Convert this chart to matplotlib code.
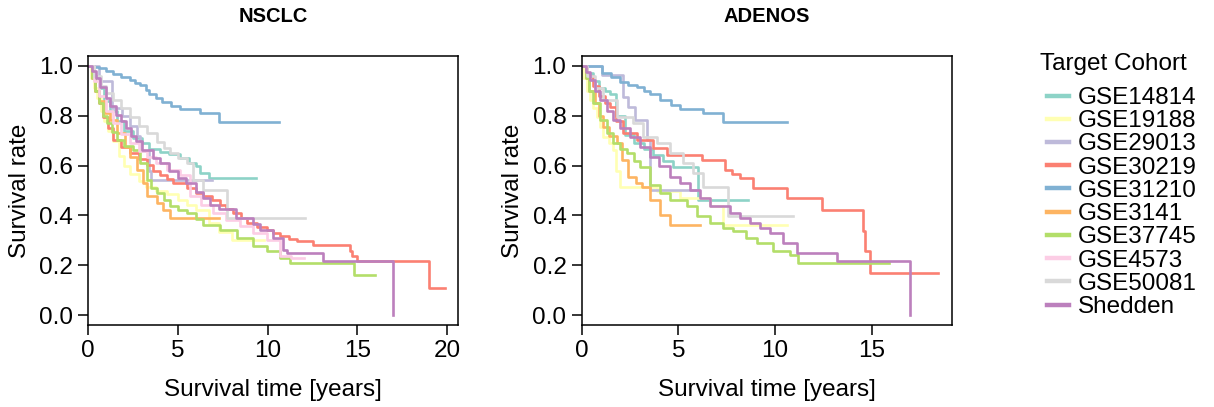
import numpy as np
import matplotlib
matplotlib.use("Agg")
import matplotlib.pyplot as plt
from matplotlib.lines import Line2D

plt.rcParams['font.family'] = ['Liberation Sans', 'DejaVu Sans']

cohorts = ['GSE14814', 'GSE19188', 'GSE29013', 'GSE30219', 'GSE31210',
           'GSE3141', 'GSE37745', 'GSE4573', 'GSE50081', 'Shedden']
colors = ['#8DD3C7', '#FFFFB3', '#BEBADA', '#FB8072', '#80B1D3',
          '#FDB462', '#B3DE69', '#FCCDE5', '#D9D9D9', '#BC80BD']

# NSCLC panel: step times (years) and survival from that time on
nsclc_gse14814_t = [0, .3, .6, .9, 1.2, 1.6, 2.0, 2.5, 3.0, 3.4, 4.0, 4.5, 5.1, 5.6, 6.0, 6.2, 6.7, 9.35]
nsclc_gse14814_s = [1, .96, .91, .86, .82, .78, .74, .71, .69, .665, .655, .645, .63, .61, .60, .57, .552, .552]
nsclc_gse19188_t = [0, .15, .3, .5, .7, .9, 1.1, 1.4, 1.7, 2.0, 2.3, 2.8, 3.2, 3.8, 4.4, 5.0, 5.5, 6.0, 6.7, 7.3, 8.0, 9.8]
nsclc_gse19188_s = [1, .95, .91, .87, .82, .78, .74, .70, .64, .60, .565, .54, .515, .50, .485, .46, .44, .42, .37, .335, .303, .303]
nsclc_gse29013_t = [0, .6, 1.3, 1.9, 2.3, 2.7, 2.9, 3.4, 3.5, 6.9]
nsclc_gse29013_s = [1, .94, .83, .80, .76, .72, .66, .58, .543, .543]
nsclc_gse30219_t = [0, .2, .4, .6, .84, 1.1, 1.39, 1.8, 2.32, 2.8, 3.25, 3.6, 4.0, 4.4, 4.74, 5.48, 6.0, 6.41,
                    6.9, 7.34, 7.7, 8.08, 8.5, 8.83, 9.4, 9.94, 10.3, 10.69, 11.2, 11.62, 12.55, 14.59, 14.68,
                    14.96, 19.0, 19.9]
nsclc_gse30219_s = [1, .95, .9, .85, .796, .75, .703, .675, .649, .625, .603, .58, .563, .545, .529, .509, .49, .476,
                    .46, .443, .425, .409, .39, .369, .355, .343, .33, .316, .305, .296, .283, .256, .236,
                    .216, .109, .109]
nsclc_gse31210_t = [0, .3, .6, 1.0, 1.4, 1.8, 2.3, 2.6, 2.9, 3.2, 3.4, 3.8, 4.1, 4.6, 5.1, 6.2, 7.3, 10.6]
nsclc_gse31210_s = [1, .995, .99, .98, .966, .955, .943, .933, .923, .905, .889, .87, .856, .84, .829, .812, .776, .776]
nsclc_gse3141_t = [0, .2, .4, .6, .93, 1.2, 1.58, 2.04, 2.32, 2.7, 3.07, 3.25, 3.81, 4.18, 4.55, 7.3]
nsclc_gse3141_s = [1, .95, .9, .86, .81, .783, .729, .676, .636, .583, .529, .476, .449, .423, .389, .389]
nsclc_gse37745_t = [0, .2, .4, .6, .8, 1.02, 1.3, 1.58, 2.0, 2.51, 2.88, 3.25, 3.5, 3.81, 4.2, 4.55, 5.0, 5.48,
                    6.0, 6.41, 7.34, 8.27, 9.2, 9.94, 10.69, 11.25, 14.78, 15.95]
nsclc_gse37745_s = [1, .95, .9, .85, .80, .769, .735, .703, .68, .663, .609, .543, .51, .489, .46, .436, .42, .409,
                    .385, .363, .343, .309, .276, .256, .229, .209, .159, .159]
nsclc_gse4573_t = [0, .3, .6, 1.0, 1.39, 1.8, 2.32, 2.8, 3.25, 3.8, 4.37, 5.11, 5.67, 6.3, 6.97, 7.7, 8.46, 9.2,
                   9.94, 10.69, 11.3, 12.03]
nsclc_gse4573_s = [1, .94, .88, .82, .769, .725, .689, .66, .636, .61, .583, .563, .476, .44, .409, .38, .356, .33,
                   .303, .236, .229, .229]
nsclc_gse50081_t = [0, .3, .7, 1.0, 1.39, 1.8, 2.32, 2.8, 3.25, 3.81, 4.2, 4.55, 5.0, 5.48, 5.86, 6.41, 7.71, 12.08]
nsclc_gse50081_s = [1, .96, .92, .89, .863, .83, .796, .76, .729, .696, .67, .649, .63, .609, .543, .503, .389, .389]
nsclc_shedden_t = [0, .2, .43, .65, .99, 1.2, 1.54, 1.8, 2.1, 2.4, 2.66, 3.0, 3.59, 4.0, 4.52, 5.0, 5.45, 6.0,
                   6.38, 6.8, 7.3, 8.24, 9.16, 9.57, 10.28, 10.87, 11.06, 13.1, 17.0, 17.0]
nsclc_shedden_s = [1, .98, .951, .916, .871, .84, .804, .78, .751, .72, .697, .663, .631, .609, .577, .55, .531, .495,
                   .471, .44, .424, .391, .364, .343, .311, .263, .249, .216, 0, 0]

# ADENOS panel
adeno_gse14814_t = [0, .3, .6, .9, 1.2, 1.46, 1.8, 2.24, 2.7, 3.2, 3.71, 4.2, 4.74, 6.03, 8.62]
adeno_gse14814_s = [1, .97, .94, .91, .9, .889, .8, .723, .69, .665, .643, .62, .596, .463, .463]
adeno_gse19188_t = [0, .08, .25, .43, .6, .77, .95, 1.12, 1.4, 1.64, 1.8, 1.98, 3.88, 5.09, 6.64, 7.33, 10.6]
adeno_gse19188_s = [1, .95, .9, .863, .83, .796, .756, .716, .69, .663, .58, .516, .496, .469, .436, .363, .363]
adeno_gse29013_t = [0, 1.03, 2.15, 2.41, 2.76, 3.36, 3.53, 5.9]
adeno_gse29013_s = [1, .963, .876, .836, .785, .703, .503, .503]
adeno_gse30219_t = [0, .3, .6, .9, 1.2, 1.46, 1.8, 2.15, 2.84, 3.71, 4.4, 6.2, 7.41, 7.8, 8.19, 8.88, 10.6, 12.41,
                    14.57, 14.65, 14.91, 18.45]
adeno_gse30219_s = [1, .96, .92, .88, .85, .836, .78, .729, .703, .669, .643, .623, .583, .565, .549, .509, .469, .423,
                    .336, .256, .169, .169]
adeno_gse31210_t = [0, .95, 1.03, 1.5, 1.98, 2.4, 2.84, 3.2, 3.53, 4.05, 4.6, 5.09, 6.29, 7.33, 10.6]
adeno_gse31210_s = [1, 1, .97, .955, .936, .925, .916, .9, .889, .863, .845, .829, .812, .776, .776]
adeno_gse3141_t = [0, .2, .4, .7, .9, 1.12, 1.4, 1.81, 2.07, 2.41, 2.8, 3.1, 3.53, 4.05, 4.57, 6.12]
adeno_gse3141_s = [1, .95, .9, .85, .8, .756, .72, .689, .623, .556, .53, .516, .463, .403, .363, .363]
adeno_gse37745_t = [0, .2, .4, .6, .95, 1.3, 1.64, 2.0, 2.33, 2.7, 3.02, 3.53, 4.05, 4.57, 5.43, 5.95, 6.64, 7.3,
                    7.84, 8.5, 9.05, 9.91, 10.78, 11.2, 15.9]
adeno_gse37745_s = [1, .95, .9, .85, .783, .73, .689, .665, .649, .62, .596, .523, .489, .463, .436, .396, .369, .35,
                    .336, .31, .289, .256, .243, .209, .209]
adeno_gse50081_t = [0, .3, .7, 1.12, 1.81, 2.67, 3.19, 3.88, 4.57, 5.26, 5.77, 6.29, 7.59, 10.91]
adeno_gse50081_s = [1, .96, .91, .863, .796, .769, .716, .689, .649, .609, .569, .516, .396, .396]
adeno_shedden_t = [0, .2, .43, .7, .95, 1.3, 1.64, 2.0, 2.5, 3.0, 3.53, 4.0, 4.57, 5.1, 5.6, 6.1, 6.64, 7.67,
                   8.2, 8.71, 9.2, 9.74, 10.43, 11.12, 13.19, 17.0, 17.0]
adeno_shedden_s = [1, .975, .943, .9, .863, .82, .783, .75, .716, .675, .636, .6, .556, .53, .503, .47, .436, .409,
                   .39, .369, .35, .329, .289, .249, .216, 0, 0]

nsclc = {
    'GSE14814': (nsclc_gse14814_t, nsclc_gse14814_s),
    'GSE19188': (nsclc_gse19188_t, nsclc_gse19188_s),
    'GSE29013': (nsclc_gse29013_t, nsclc_gse29013_s),
    'GSE30219': (nsclc_gse30219_t, nsclc_gse30219_s),
    'GSE31210': (nsclc_gse31210_t, nsclc_gse31210_s),
    'GSE3141': (nsclc_gse3141_t, nsclc_gse3141_s),
    'GSE37745': (nsclc_gse37745_t, nsclc_gse37745_s),
    'GSE4573': (nsclc_gse4573_t, nsclc_gse4573_s),
    'GSE50081': (nsclc_gse50081_t, nsclc_gse50081_s),
    'Shedden': (nsclc_shedden_t, nsclc_shedden_s),
}
adenos = {
    'GSE14814': (adeno_gse14814_t, adeno_gse14814_s),
    'GSE19188': (adeno_gse19188_t, adeno_gse19188_s),
    'GSE29013': (adeno_gse29013_t, adeno_gse29013_s),
    'GSE30219': (adeno_gse30219_t, adeno_gse30219_s),
    'GSE31210': (adeno_gse31210_t, adeno_gse31210_s),
    'GSE3141': (adeno_gse3141_t, adeno_gse3141_s),
    'GSE37745': (adeno_gse37745_t, adeno_gse37745_s),
    'GSE50081': (adeno_gse50081_t, adeno_gse50081_s),
    'Shedden': (adeno_shedden_t, adeno_shedden_s),
}

W, H = 1214, 407
fig = plt.figure(figsize=(W / 100, H / 100), dpi=100)

fs = 17.5
panels = [('NSCLC', nsclc, 88.3, 458.3, 20.62, [0, 5, 10, 15, 20]),
          ('ADENOS', adenos, 581.7, 951.7, 19.14, [0, 5, 10, 15])]

for title, data, x0, x1, xmax, xticks in panels:
    ax = fig.add_axes([x0 / W, 1 - 325 / H, (x1 - x0) / W, (325 - 56) / H])
    for name, col in zip(cohorts, colors):
        if name not in data:
            continue
        t, s = data[name]
        ax.step(t, s, where='post', color=col, lw=1.9)
    ax.set_xlim(0, xmax)
    ax.set_ylim(-0.04, 1.04)
    ax.set_xticks(xticks)
    ax.set_yticks([0, 0.2, 0.4, 0.6, 0.8, 1.0])
    ax.set_yticklabels(['0.0', '0.2', '0.4', '0.6', '0.8', '1.0'])
    ax.tick_params(direction='out', length=7, width=1.1, labelsize=fs, pad=4)
    for sp in ax.spines.values():
        sp.set_linewidth(1.1)
    ax.set_xlabel('Survival time [years]', fontsize=fs, labelpad=12)
    ax.set_ylabel('Survival rate', fontsize=fs, labelpad=6)
    fig.text((x0 + x1) / 2 / W, 1 - 17 / H, title, fontsize=14.5, fontweight='bold',
             ha='center', va='center')

fig.text(1040 / W, 1 - 64 / H, 'Target Cohort', fontsize=fs, ha='left', va='center')
handles = [Line2D([], [], color=c, lw=3.2) for c in colors]
fig.legend(handles, cohorts, loc='upper left', bbox_to_anchor=(1047 / W, 1 - 87 / H),
           frameon=False, fontsize=fs, handlelength=0.9, handletextpad=0.37,
           labelspacing=0.05, borderpad=0, borderaxespad=0)

fig.savefig('out.png', dpi=100)
